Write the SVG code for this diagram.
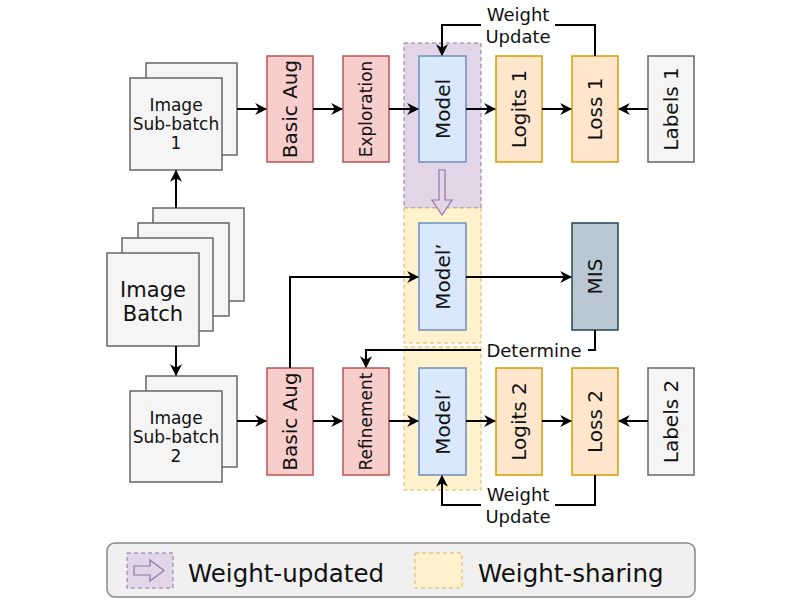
<svg xmlns="http://www.w3.org/2000/svg" width="800" height="600" viewBox="0 0 800 600">
<defs>
<style>
text{font-family:"DejaVu Sans","Liberation Sans",sans-serif;fill:#111;}
.gray{fill:#f5f5f5;stroke:#666;stroke-width:1.5;}
.pink{fill:#f8cecc;stroke:#b85450;stroke-width:1.5;}
.blue{fill:#dae8fc;stroke:#6c8ebf;stroke-width:1.5;}
.orange{fill:#ffe6cc;stroke:#d79b00;stroke-width:1.5;}
.mis{fill:#bac8d3;stroke:#23445d;stroke-width:1.5;}
.purp{fill:#e1d5e7;stroke:#9673a6;stroke-width:1;stroke-dasharray:4 3;}
.yel{fill:#fff2cc;stroke:#d6b656;stroke-width:1;stroke-dasharray:4 3;}
.con{fill:none;stroke:#000;stroke-width:2;}
.arr{marker-end:url(#ah);}
.v{font-size:20px;text-anchor:middle;dominant-baseline:central;}
.vs{font-size:17px;text-anchor:middle;dominant-baseline:central;}
.lbl{font-size:18px;text-anchor:middle;}
.sb{font-size:17px;text-anchor:middle;}
</style>
<marker id="ah" viewBox="0 0 10 10" refX="9" refY="5" markerWidth="6" markerHeight="6" orient="auto" markerUnits="strokeWidth">
<path d="M0,0 L10,5 L0,10 L3,5 Z" fill="#000"/>
</marker>
</defs>
<rect width="800" height="600" fill="#fff"/>

<g id="regions">
<rect class="purp" x="404" y="43" width="77" height="165"/>
<rect class="yel" x="404" y="208" width="77" height="135"/>
<rect class="yel" x="404" y="347" width="77" height="143"/>
<path d="M439,170 H445 V200 H452 L442,215 L432,200 H439 Z" fill="#e1d5e7" stroke="#9673a6" stroke-width="1.2"/>
</g>

<g id="image-batch">
<rect class="gray" x="153" y="208" width="91" height="93"/>
<rect class="gray" x="138" y="223" width="91" height="93"/>
<rect class="gray" x="122" y="238" width="91" height="93"/>
<rect class="gray" x="107" y="253" width="92" height="93"/>
<text x="153" y="297" font-size="21" text-anchor="middle">Image</text>
<text x="153" y="321" font-size="21" text-anchor="middle">Batch</text>
</g>

<g id="sub-batch-1">
<rect class="gray" x="146" y="63" width="91" height="92"/>
<rect class="gray" x="130" y="78" width="92" height="92"/>
<text class="sb" x="176" y="111">Image</text>
<text class="sb" x="176" y="130">Sub-batch</text>
<text class="sb" x="176" y="149">1</text>
</g>

<g id="sub-batch-2">
<rect class="gray" x="146" y="376" width="91" height="91"/>
<rect class="gray" x="130" y="391" width="92" height="91"/>
<text class="sb" x="176" y="424">Image</text>
<text class="sb" x="176" y="443">Sub-batch</text>
<text class="sb" x="176" y="462">2</text>
</g>

<g id="basic-aug-1"><rect class="pink" x="267" y="56" width="46" height="106"/><text class="v" transform="translate(290,109) rotate(-90)">Basic Aug</text></g>
<g id="exploration"><rect class="pink" x="343" y="56" width="46" height="106"/><text class="vs" transform="translate(366,109) rotate(-90)">Exploration</text></g>
<g id="model"><rect class="blue" x="419" y="56" width="47" height="106"/><text class="v" transform="translate(442.5,109) rotate(-90)">Model</text></g>
<g id="logits-1"><rect class="orange" x="496" y="56" width="46" height="106"/><text class="v" transform="translate(519,109) rotate(-90)">Logits 1</text></g>
<g id="loss-1"><rect class="orange" x="572" y="56" width="46" height="106"/><text class="v" transform="translate(595,109) rotate(-90)">Loss 1</text></g>
<g id="labels-1"><rect class="gray" x="648" y="56" width="46" height="106"/><text class="v" transform="translate(671,109) rotate(-90)">Labels 1</text></g>

<g id="model-prime-1"><rect class="blue" x="419" y="223" width="47" height="107"/><text class="v" transform="translate(442.5,276.5) rotate(-90)">Model’</text></g>
<g id="mis"><rect class="mis" x="572" y="223" width="46" height="107"/><text class="v" transform="translate(595,276.5) rotate(-90)">MIS</text></g>

<g id="basic-aug-2"><rect class="pink" x="267" y="368" width="46" height="107"/><text class="v" transform="translate(290,421.5) rotate(-90)">Basic Aug</text></g>
<g id="refinement"><rect class="pink" x="343" y="368" width="46" height="107"/><text class="vs" transform="translate(366,421.5) rotate(-90)">Refinement</text></g>
<g id="model-prime-2"><rect class="blue" x="419" y="368" width="47" height="107"/><text class="v" transform="translate(442.5,421.5) rotate(-90)">Model’</text></g>
<g id="logits-2"><rect class="orange" x="496" y="368" width="46" height="107"/><text class="v" transform="translate(519,421.5) rotate(-90)">Logits 2</text></g>
<g id="loss-2"><rect class="orange" x="572" y="368" width="46" height="107"/><text class="v" transform="translate(595,421.5) rotate(-90)">Loss 2</text></g>
<g id="labels-2"><rect class="gray" x="648" y="368" width="46" height="107"/><text class="v" transform="translate(671,421.5) rotate(-90)">Labels 2</text></g>

<g id="connectors">
<path class="con arr" d="M176,208 V171"/>
<path class="con arr" d="M176,346 V375"/>
<path class="con arr" d="M237,109 H266"/>
<path class="con arr" d="M313,109 H342"/>
<path class="con arr" d="M389,109 H418"/>
<path class="con arr" d="M466,109 H495"/>
<path class="con arr" d="M542,109 H571"/>
<path class="con arr" d="M648,109 H619"/>
<path class="con" d="M595,56 V25 H555"/>
<path class="con arr" d="M481,25 H442 V55"/>
<text class="lbl" x="518" y="21">Weight</text>
<text class="lbl" x="518" y="43">Update</text>

<path class="con arr" d="M290,368 V277 H418"/>
<path class="con arr" d="M466,277 H571"/>
<path class="con" d="M595,330 V350 H588"/>
<path class="con arr" d="M481,350 H366 V367"/>
<text class="lbl" x="534" y="357">Determine</text>

<path class="con arr" d="M237,421 H266"/>
<path class="con arr" d="M313,421 H342"/>
<path class="con arr" d="M389,421 H418"/>
<path class="con arr" d="M466,421 H495"/>
<path class="con arr" d="M542,421 H571"/>
<path class="con arr" d="M648,421 H619"/>
<path class="con" d="M595,475 V505 H555"/>
<path class="con arr" d="M481,505 H442 V476"/>
<text class="lbl" x="518" y="501">Weight</text>
<text class="lbl" x="518" y="523">Update</text>
</g>

<g id="legend">
<rect x="107" y="543" width="588" height="54" rx="8" fill="#f0f0f0" stroke="#888" stroke-width="1.5"/>
<rect class="purp" x="127" y="553" width="46" height="35"/>
<path d="M134,566 H150 V560 L164,570.5 L150,581 V575 H134 Z" fill="none" stroke="#9673a6" stroke-width="1.2"/>
<text x="188" y="582" font-size="24.5">Weight-updated</text>
<rect class="yel" x="415" y="553" width="47" height="35"/>
<text x="478" y="582" font-size="24.5">Weight-sharing</text>
</g>
</svg>
